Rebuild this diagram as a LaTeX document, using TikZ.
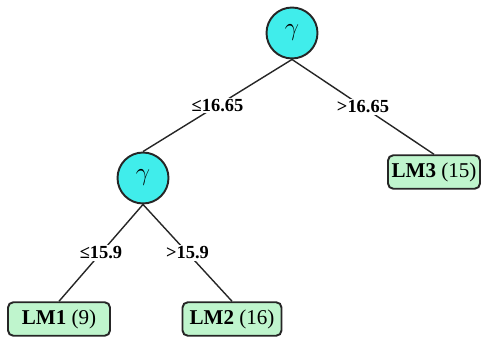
\documentclass[tikz,border=0pt]{standalone}
\usepackage{fontspec}
\setmainfont{Liberation Serif}
\definecolor{splitcyan}{HTML}{40EDEB}
\definecolor{leafgreen}{HTML}{BFF5CD}
\tikzset{
    split/.style={circle, draw=black!85, line width=1.1pt, fill=splitcyan,
        minimum size=1.02cm, inner sep=0pt, font=\fontsize{14}{14}\selectfont},
    leaf/.style={rectangle, rounded corners=3pt, draw=black!85, line width=1.1pt,
        fill=leafgreen, minimum height=0.67cm, inner sep=2pt,
        font=\fontsize{12}{12}\selectfont},
    cond/.style={fill=white, inner sep=1pt, font=\bfseries\fontsize{10.5}{12}\selectfont},
    branch/.style={draw=black!85, line width=0.8pt}
}
\begin{document}
\begin{tikzpicture}[x=0.02cm, y=-0.02cm]
    \useasboundingbox (0,0) rectangle (486,337);

    \node[split] (root) at (292,33) {$\gamma$};
    \node[split] (left) at (143,178) {$\gamma$};

    \node[leaf, minimum width=1.84cm] (lm3) at (434,172) {\textbf{LM3} (15)};
    \node[leaf, minimum width=2.04cm] (lm1) at (59,319) {\textbf{LM1} (9)};
    \node[leaf, minimum width=1.98cm] (lm2) at (232,319) {\textbf{LM2} (16)};

    \path[branch] (root.south) -- node[cond] {≤16.65} (left.north);
    \path[branch] (root.south) -- node[cond] {>16.65} (lm3.north);
    \path[branch] (left.south) -- node[cond] {≤15.9} (lm1.north);
    \path[branch] (left.south) -- node[cond] {>15.9} (lm2.north);
\end{tikzpicture}
\end{document}
